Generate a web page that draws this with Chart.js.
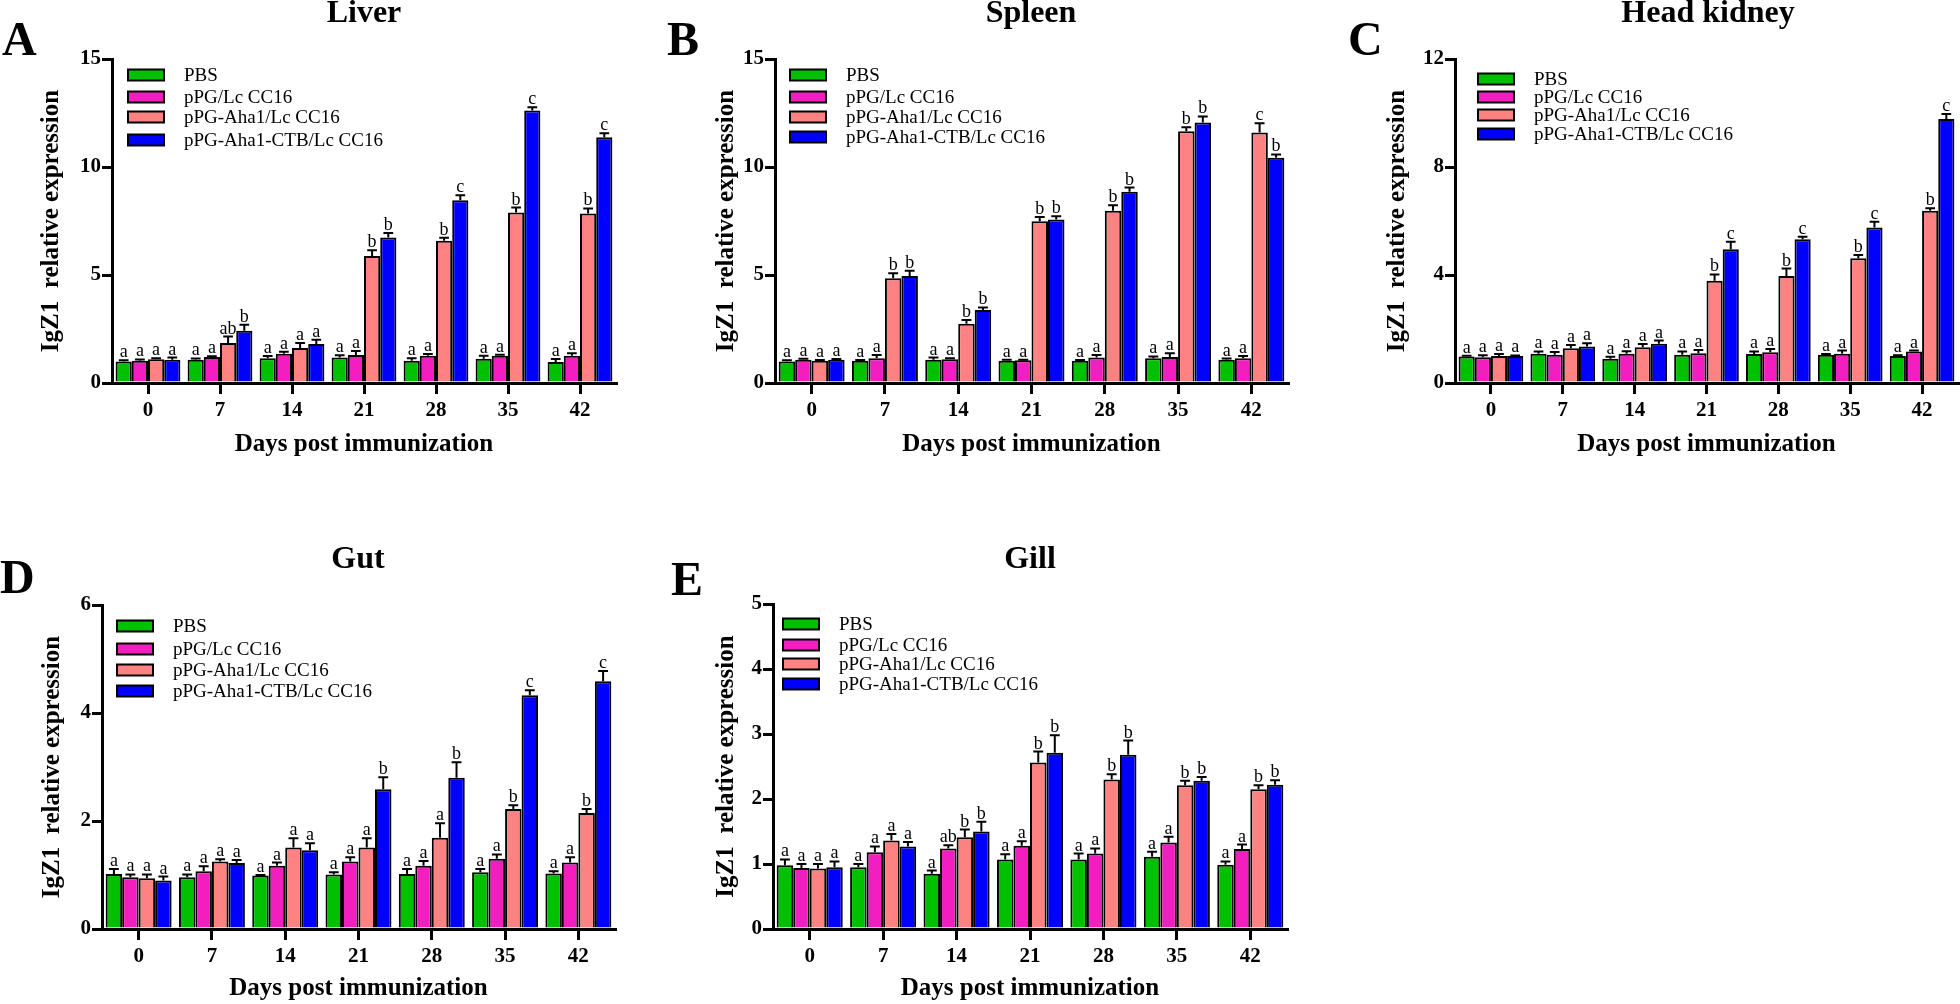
<!DOCTYPE html>
<html>
<head>
<meta charset="utf-8">
<title>IgZ1 relative expression</title>
<script src="https://cdn.jsdelivr.net/npm/chart.js@4.4.1/dist/chart.umd.min.js"></script>
<style>
  html, body { margin: 0; padding: 0; background: #fff; }
  #page { position: relative; width: 1960px; height: 1004px; overflow: hidden; background: #fff; }
  #page canvas { position: absolute; }
</style>
</head>
<body>
<div id="page"></div>
<script>
// categories and groups
const days = ['0', '7', '14', '21', '28', '35', '42'];
const groups = ['PBS', 'pPG/Lc CC16', 'pPG-Aha1/Lc CC16', 'pPG-Aha1-CTB/Lc CC16'];

// Liver (rows: PBS, pPG, pPG-Aha1, pPG-Aha1-CTB)
const liverMean = [
  [1.00, 1.08, 1.15, 1.18, 1.03, 1.12, 0.97],
  [1.03, 1.20, 1.35, 1.30, 1.26, 1.26, 1.26],
  [1.10, 1.85, 1.62, 5.88, 6.58, 7.89, 7.85],
  [1.08, 2.42, 1.80, 6.74, 8.46, 12.62, 11.38]
];
const liverErr = [
  [0.05, 0.06, 0.10, 0.10, 0.12, 0.14, 0.14],
  [0.06, 0.04, 0.10, 0.18, 0.08, 0.05, 0.12],
  [0.05, 0.30, 0.23, 0.27, 0.15, 0.23, 0.23],
  [0.10, 0.28, 0.20, 0.20, 0.23, 0.15, 0.18]
];
const liverSig = [
  ['a', 'a', 'a', 'a', 'a', 'a', 'a'],
  ['a', 'a', 'a', 'a', 'a', 'a', 'a'],
  ['a', 'ab', 'a', 'b', 'b', 'b', 'b'],
  ['a', 'b', 'a', 'b', 'c', 'c', 'c']
];

// Spleen
const spleenMean = [
  [1.00, 1.03, 1.08, 1.03, 1.03, 1.15, 1.08],
  [1.08, 1.15, 1.10, 1.05, 1.18, 1.20, 1.15],
  [1.03, 4.85, 2.74, 7.49, 7.97, 11.66, 11.60],
  [1.08, 4.95, 3.38, 7.57, 8.85, 12.06, 10.43]
];
const spleenErr = [
  [0.05, 0.03, 0.10, 0.05, 0.03, 0.08, 0.05],
  [0.04, 0.15, 0.05, 0.03, 0.12, 0.18, 0.10],
  [0.03, 0.23, 0.18, 0.20, 0.26, 0.18, 0.43],
  [0.03, 0.25, 0.12, 0.15, 0.20, 0.28, 0.15]
];
const spleenSig = [
  ['a', 'a', 'a', 'a', 'a', 'a', 'a'],
  ['a', 'a', 'a', 'a', 'a', 'a', 'a'],
  ['a', 'b', 'b', 'b', 'b', 'b', 'c'],
  ['a', 'b', 'b', 'b', 'b', 'b', 'b']
];

// Head kidney
const kidneyMean = [
  [0.98, 1.08, 0.90, 1.05, 1.07, 1.05, 1.00],
  [0.95, 1.05, 1.08, 1.10, 1.14, 1.08, 1.17],
  [1.00, 1.29, 1.32, 3.79, 3.96, 4.62, 6.38],
  [1.00, 1.35, 1.45, 4.95, 5.32, 5.76, 9.78]
];
const kidneyErr = [
  [0.03, 0.09, 0.07, 0.12, 0.10, 0.02, 0.03],
  [0.08, 0.10, 0.10, 0.12, 0.12, 0.12, 0.03],
  [0.07, 0.12, 0.12, 0.23, 0.28, 0.12, 0.09],
  [0.02, 0.12, 0.12, 0.28, 0.10, 0.21, 0.18]
];
const kidneySig = [
  ['a', 'a', 'a', 'a', 'a', 'a', 'a'],
  ['a', 'a', 'a', 'a', 'a', 'a', 'a'],
  ['a', 'a', 'a', 'b', 'b', 'b', 'b'],
  ['a', 'a', 'a', 'c', 'c', 'c', 'c']
];

// Gut
const gutMean = [
  [1.02, 0.96, 0.99, 1.01, 1.02, 1.05, 1.03],
  [0.96, 1.07, 1.17, 1.25, 1.17, 1.30, 1.23],
  [0.94, 1.25, 1.51, 1.51, 1.69, 2.22, 2.15],
  [0.90, 1.22, 1.46, 2.59, 2.80, 4.33, 4.59]
];
const gutErr = [
  [0.09, 0.05, 0.01, 0.04, 0.09, 0.06, 0.04],
  [0.05, 0.09, 0.06, 0.08, 0.09, 0.08, 0.10],
  [0.07, 0.04, 0.17, 0.17, 0.27, 0.07, 0.07],
  [0.07, 0.06, 0.13, 0.22, 0.29, 0.09, 0.19]
];
const gutSig = [
  ['a', 'a', 'a', 'a', 'a', 'a', 'a'],
  ['a', 'a', 'a', 'a', 'a', 'a', 'a'],
  ['a', 'a', 'a', 'a', 'a', 'b', 'b'],
  ['a', 'a', 'a', 'b', 'b', 'c', 'c']
];

// Gill
const gillMean = [
  [0.98, 0.95, 0.85, 1.07, 1.07, 1.11, 0.99],
  [0.94, 1.18, 1.24, 1.28, 1.16, 1.33, 1.23],
  [0.93, 1.36, 1.41, 2.56, 2.30, 2.21, 2.15],
  [0.95, 1.27, 1.50, 2.71, 2.68, 2.28, 2.22]
];
const gillErr = [
  [0.09, 0.05, 0.05, 0.08, 0.09, 0.08, 0.05],
  [0.06, 0.09, 0.05, 0.07, 0.08, 0.09, 0.07],
  [0.07, 0.10, 0.12, 0.17, 0.08, 0.07, 0.06],
  [0.09, 0.07, 0.15, 0.27, 0.22, 0.06, 0.07]
];
const gillSig = [
  ['a', 'a', 'a', 'a', 'a', 'a', 'a'],
  ['a', 'a', 'ab', 'a', 'a', 'a', 'a'],
  ['a', 'a', 'b', 'b', 'b', 'b', 'b'],
  ['a', 'a', 'b', 'b', 'b', 'b', 'b']
];

const barColors = ['#00c000', '#f21ec0', '#ff8282', '#0000ff'];
const serif = "'Liberation Serif', 'Times New Roman', serif";

Chart.defaults.font.family = serif;
Chart.defaults.color = '#000';

// page layout of each panel (absolute px): canvas box, plot area, texts
const panels = [
  { letter: 'A', title: 'Liver', mean: liverMean, err: liverErr, sig: liverSig, max: 15, step: 5,
    box: [0, 0, 650, 500], area: [112, 59, 616, 383],
    letterAt: [2, 55], titleAt: [364, 22], legendX: 128, legendY: [75, 97, 117, 140],
    yTitleX: 52, xTitleY: 445 },
  { letter: 'B', title: 'Spleen', mean: spleenMean, err: spleenErr, sig: spleenSig, max: 15, step: 5,
    box: [650, 0, 660, 500], area: [775, 59, 1288, 383],
    letterAt: [667, 55], titleAt: [1031, 22], legendX: 790, legendY: [75, 97, 117, 137],
    yTitleX: 727, xTitleY: 445 },
  { letter: 'C', title: 'Head kidney', mean: kidneyMean, err: kidneyErr, sig: kidneySig, max: 12, step: 4,
    box: [1310, 0, 650, 500], area: [1455, 59, 1958, 383],
    letterAt: [1348, 55], titleAt: [1708, 22], legendX: 1478, legendY: [79, 97, 115, 134],
    yTitleX: 1398, xTitleY: 445 },
  { letter: 'D', title: 'Gut', mean: gutMean, err: gutErr, sig: gutSig, max: 6, step: 2,
    box: [0, 500, 650, 504], area: [102, 605, 615, 929],
    letterAt: [0, 593], titleAt: [358, 568], legendX: 117, legendY: [626, 649, 670, 691],
    yTitleX: 53, xTitleY: 989 },
  { letter: 'E', title: 'Gill', mean: gillMean, err: gillErr, sig: gillSig, max: 5, step: 1,
    box: [650, 500, 660, 504], area: [773, 604, 1287, 929],
    letterAt: [671, 595], titleAt: [1030, 568], legendX: 783, legendY: [624, 645, 664, 684],
    yTitleX: 727, xTitleY: 989 }
];

function decorPlugin(p) {
  const ox = p.box[0], oy = p.box[1];
  return {
    id: 'decor',
    afterDatasetsDraw(chart) {
      const ctx = chart.ctx;
      const yScale = chart.scales.y;
      ctx.save();
      ctx.strokeStyle = '#000';
      ctx.fillStyle = '#000';
      ctx.lineWidth = 2;
      ctx.font = '18px ' + serif;
      ctx.textAlign = 'center';
      ctx.textBaseline = 'alphabetic';
      chart.data.datasets.forEach((ds, i) => {
        chart.getDatasetMeta(i).data.forEach((bar, j) => {
          // error bar (upper half only) and significance letter
          const top = yScale.getPixelForValue(ds.data[j] + ds.err[j]);
          const cap = bar.width * 0.3;
          ctx.beginPath();
          ctx.moveTo(bar.x, bar.y);
          ctx.lineTo(bar.x, top);
          ctx.moveTo(bar.x - cap, top);
          ctx.lineTo(bar.x + cap, top);
          ctx.stroke();
          ctx.fillText(ds.sig[j], bar.x, top - 3);
        });
      });
      ctx.restore();
    },
    afterDraw(chart) {
      const ctx = chart.ctx;
      ctx.save();
      ctx.fillStyle = '#000';
      // panel letter
      ctx.font = 'bold 48px ' + serif;
      ctx.textAlign = 'left';
      ctx.textBaseline = 'alphabetic';
      ctx.fillText(p.letter, p.letterAt[0] - ox, p.letterAt[1] - oy);
      // panel title
      ctx.font = 'bold 32px ' + serif;
      ctx.textAlign = 'center';
      ctx.fillText(p.title, p.titleAt[0] - ox, p.titleAt[1] - oy);
      // legend
      ctx.font = '19px ' + serif;
      ctx.textAlign = 'left';
      ctx.textBaseline = 'middle';
      ctx.lineWidth = 2;
      ctx.strokeStyle = '#000';
      chart.data.datasets.forEach((ds, k) => {
        const x = p.legendX - ox;
        const y = p.legendY[k] - oy;
        ctx.fillStyle = ds.backgroundColor;
        ctx.fillRect(x, y - 5.5, 36, 11);
        ctx.strokeRect(x, y - 5.5, 36, 11);
        ctx.fillStyle = '#000';
        ctx.fillText(ds.label, x + 56, y + 1);
      });
      ctx.restore();
    }
  };
}

function makePanel(p) {
  const [bx, by, bw, bh] = p.box;
  const [al, at, ar, ab] = p.area;
  const canvas = document.createElement('canvas');
  canvas.width = bw;
  canvas.height = bh;
  canvas.style.left = bx + 'px';
  canvas.style.top = by + 'px';
  canvas.style.width = bw + 'px';
  canvas.style.height = bh + 'px';
  document.getElementById('page').appendChild(canvas);

  const tickFont = { family: serif, size: 21, weight: 'bold' };
  const titleFont = { family: serif, size: 25, weight: 'bold', lineHeight: 1.2 };

  new Chart(canvas.getContext('2d'), {
    type: 'bar',
    data: {
      labels: days,
      datasets: groups.map((g, k) => ({
        label: g,
        data: p.mean[k],
        err: p.err[k],
        sig: p.sig[k],
        backgroundColor: barColors[k],
        borderColor: '#000',
        borderWidth: 2,
        categoryPercentage: 0.9,
        barPercentage: 1.0
      }))
    },
    options: {
      responsive: false,
      animation: false,
      devicePixelRatio: 1,
      layout: { padding: { left: 0, top: at - by, right: bx + bw - ar, bottom: 0 } },
      plugins: { legend: { display: false }, tooltip: { enabled: false }, title: { display: false } },
      scales: {
        x: {
          offset: true,
          ticks: { font: tickFont, color: '#000', padding: 4 },
          grid: { offset: false, drawOnChartArea: false, tickLength: 11, lineWidth: 3, color: '#000' },
          border: { width: 3, color: '#000' },
          title: {
            display: true, text: 'Days post immunization', color: '#000', font: titleFont,
            padding: { top: 0, bottom: Math.max(0, (by + bh - p.xTitleY) - 15) }
          },
          afterFit: s => { s.height = by + bh - ab; }
        },
        y: {
          min: 0,
          max: p.max,
          ticks: { stepSize: p.step, font: tickFont, color: '#000', padding: 1 },
          grid: { drawOnChartArea: false, tickLength: 10, lineWidth: 3, color: '#000' },
          border: { width: 3, color: '#000' },
          title: {
            display: true, text: 'IgZ1  relative expression', color: '#000', font: titleFont,
            padding: { top: p.yTitleX - bx - 15, bottom: 0 }
          },
          afterFit: s => { s.width = al - bx; }
        }
      }
    },
    plugins: [decorPlugin(p)]
  });
}

panels.forEach(makePanel);
</script>
</body>
</html>
